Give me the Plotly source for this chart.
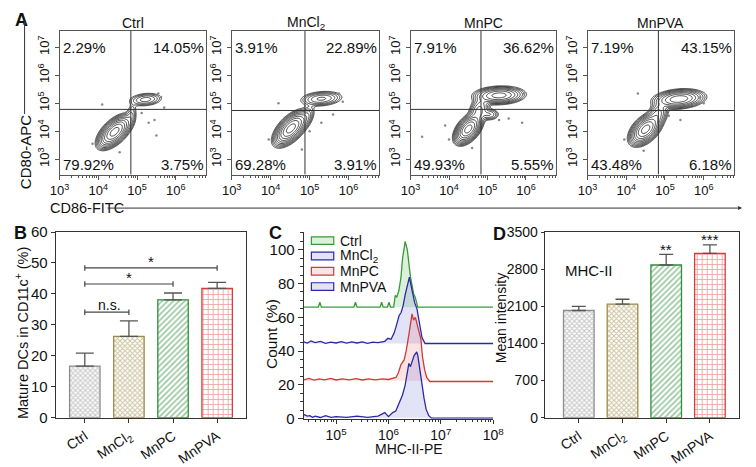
import numpy as np
import plotly.graph_objects as go

FONT = "Liberation Sans, Arial, sans-serif"

# ---------------- Panel A data ----------------
a_titles = ["Ctrl", "MnCl<sub>2</sub>", "MnPC", "MnPVA"]
a_q_ul = ["2.29%", "3.91%", "7.91%", "7.19%"]
a_q_ur = ["14.05%", "22.89%", "36.62%", "43.15%"]
a_q_ll = ["79.92%", "69.28%", "49.93%", "43.48%"]
a_q_lr = ["3.75%", "3.91%", "5.55%", "6.18%"]
a_gate_x = [4.84, 4.88, 4.83, 4.83]   # log10 CD86 gate
a_gate_y = [4.78, 4.74, 4.78, 4.74]   # log10 CD80 gate
# clusters: (cx, cy, sx, sy, rho, weight) in log10 units
a_clusters_ctrl = [(4.42, 3.98, 0.17, 0.23, 0.6, 1.0),
                   (5.22, 5.13, 0.20, 0.11, 0.2, 0.10),
                   (4.85, 4.55, 0.07, 0.22, 0.3, 0.05)]
a_clusters_mncl2 = [(4.52, 4.10, 0.17, 0.24, 0.6, 1.0),
                    (5.30, 5.16, 0.24, 0.12, 0.2, 0.14),
                    (4.92, 4.50, 0.10, 0.20, 0.5, 0.07)]
a_clusters_mnpc = [(4.50, 4.08, 0.14, 0.21, 0.5, 1.0),
                   (5.30, 5.28, 0.27, 0.13, 0.1, 0.40),
                   (4.78, 4.75, 0.12, 0.22, 0.3, 0.15),
                   (5.05, 4.60, 0.12, 0.10, 0.0, 0.08)]
a_clusters_mnpva = [(4.50, 4.07, 0.16, 0.22, 0.5, 1.0),
                    (5.36, 5.15, 0.27, 0.14, 0.2, 0.45),
                    (4.82, 4.62, 0.12, 0.20, 0.3, 0.15)]
a_clusters = [a_clusters_ctrl, a_clusters_mncl2, a_clusters_mnpc, a_clusters_mnpva]
# scattered event dots (log10 x, log10 y)
a_dots_ctrl = [(5.62, 5.22), (5.70, 4.85), (5.45, 4.40), (5.30, 4.30), (5.50, 3.85),
               (3.85, 3.55), (4.10, 4.95), (4.55, 3.25), (5.12, 4.65), (5.55, 5.35)]
a_dots_mncl2 = [(5.85, 5.05), (5.75, 5.35), (3.95, 3.70), (4.20, 5.00), (5.30, 4.30),
                (4.80, 3.35), (5.00, 4.00), (5.60, 4.60)]
a_dots_mnpc = [(5.95, 5.35), (5.70, 5.55), (3.90, 4.20), (3.30, 3.80), (4.00, 3.70),
               (5.30, 4.40), (5.55, 4.45), (5.90, 4.30), (4.60, 3.40)]
a_dots_mnpva = [(5.90, 5.20), (5.75, 4.95), (3.95, 3.70), (4.30, 5.35), (5.40, 4.40),
                (4.45, 3.30), (5.10, 4.55), (6.00, 5.00)]
a_dots = [a_dots_ctrl, a_dots_mncl2, a_dots_mnpc, a_dots_mnpva]

# ---------------- Panel B data ----------------
groups = ["Ctrl", "MnCl<sub>2</sub>", "MnPC", "MnPVA"]
b_vals = [16.7, 26.3, 38.1, 41.8]
b_err = [4.2, 5.0, 2.2, 1.9]
b_sig = [(0, 1, 34.1, "n.s."), (0, 2, 43.2, "*"), (0, 3, 48.4, "*")]

# ---------------- Panel C data ----------------
c_names = ["Ctrl", "MnCl<sub>2</sub>", "MnPC", "MnPVA"]
c_base = [66, 44.5, 22.5, 0.5]
c_ctrl_logx = [4.38, 4.66, 4.69, 4.72, 5.34, 5.37, 5.40, 5.84, 5.87, 5.90, 5.98, 6.01, 6.04,
               6.10, 6.13, 6.16, 6.20, 6.24, 6.27, 6.30, 6.32, 6.36, 6.39, 6.42, 6.45,
               6.48, 6.51, 6.54, 6.56, 8.0]
c_ctrl_y = [66, 66, 69, 66, 66, 69, 66, 66, 69, 66, 66, 69, 66,
            66, 73, 72, 76, 84, 95, 102, 105, 100, 91, 84, 79,
            74, 72, 68, 66, 66]
c_mncl2_logx = [4.38, 4.45, 4.52, 4.60, 4.70, 4.80, 4.90, 5.00, 5.10, 5.20, 5.30, 5.40, 5.50,
                5.60, 5.70, 5.80, 5.93, 5.99, 6.05, 6.11, 6.155, 6.205, 6.24, 6.28, 6.32,
                6.36, 6.40, 6.43, 6.465, 6.50, 6.545, 6.59, 6.64, 6.70, 8.0]
c_mncl2_y = [45.5, 44.8, 46.0, 45.0, 45.8, 44.6, 45.3, 44.8, 45.6, 44.7, 45.4, 44.8, 45.5,
             44.6, 45.3, 45.0, 45.8, 47.6, 47.0, 50.8, 55.5, 61.2, 62.7, 66.9, 73.5,
             79.1, 83.8, 79.1, 74.4, 68.7, 65.0, 55.5, 48.0, 44.5, 44.5]
c_mnpc_logx = [4.38, 4.48, 4.58, 4.68, 4.78, 4.90, 5.00, 5.12, 5.25, 5.38, 5.50, 5.62, 5.75,
               5.88, 6.00, 6.144, 6.19, 6.237, 6.30, 6.34, 6.39, 6.43, 6.45, 6.48, 6.515,
               6.55, 6.59, 6.62, 6.65, 6.69, 6.73, 6.79, 8.0]
c_mnpc_y = [23.0, 23.8, 22.8, 23.6, 23.0, 23.9, 22.9, 23.5, 23.0, 23.7, 22.9, 23.6, 23.0,
            23.5, 23.2, 24.4, 27.2, 31.9, 34.8, 40.4, 49.8, 57.3, 62.0, 58.3, 60.0,
            55.5, 50.8, 47.0, 36.6, 29.0, 24.4, 22.0, 22.0]
c_mnpva_logx = [4.38, 4.45, 4.50, 4.55, 4.60, 4.70, 4.80, 4.90, 5.00, 5.20, 5.40, 5.60, 5.80,
                5.93, 6.00, 6.08, 6.14, 6.205, 6.267, 6.317, 6.36, 6.39, 6.42, 6.45, 6.49,
                6.54, 6.56, 6.60, 6.64, 6.68, 6.72, 6.77, 6.82, 8.0]
c_mnpva_y = [2.5, 1.5, 1.8, 0.8, 1.5, 0.7, 1.8, 0.8, 1.2, 0.8, 1.5, 0.8, 1.5,
             3.6, 1.2, 3.6, 4.5, 9.2, 13.9, 19.6, 27.1, 32.7, 30.8, 34.2, 37.4,
             39.5, 37.4, 29.0, 19.6, 12.0, 5.5, 1.8, 0.3, 0.3]
c_logx = [c_ctrl_logx, c_mncl2_logx, c_mnpc_logx, c_mnpva_logx]
c_y = [c_ctrl_y, c_mncl2_y, c_mnpc_y, c_mnpva_y]
c_line_colors = ["#3a9a3a", "#2a2aa6", "#d03a3a", "#2a2aa6"]
c_fill_colors = ["rgba(60,170,60,0.18)", "rgba(70,70,200,0.15)",
                 "rgba(220,70,70,0.15)", "rgba(70,70,200,0.15)"]

# ---------------- Panel D data ----------------
d_vals = [2021, 2142, 2878, 3096]
d_err = [79, 91, 200, 163]
d_stars = ["", "", "**", "***"]

bar_colors = ["#8c8c8c", "#9c8a45", "#2f8f3a", "#d93a3a"]
bar_shapes = ["x", "x", "/", "+"]
bar_psize = [3.5, 3.5, 4, 5]
bar_solid = [0.5, 0.5, 0.4, 0.3]

W, H = 756, 467
def px(x):
    return x / W
def py(y):
    return 1 - y / H

fig = go.Figure()
layout = dict(width=W, height=H, margin=dict(l=0, r=0, t=0, b=0),
              paper_bgcolor="white", plot_bgcolor="white", showlegend=False,
              font=dict(family=FONT, color="#111", size=13))
annotations = []
shapes = []

def txt(x, y, text, size, xanchor="center", angle=0, bold=False):
    return dict(xref="paper", yref="paper", x=px(x), y=py(y),
                text=("<b>%s</b>" % text) if bold else text, showarrow=False,
                xanchor=xanchor, yanchor="middle", textangle=angle, font=dict(size=size))

# ---------------- Panel A ----------------
a_xdom = [(51, 202), (228, 380), (412, 562), (594, 745)]
gx = np.linspace(3.0, 6.8, 160)
gy = np.linspace(2.45, 7.6, 190)
GX, GY = np.meshgrid(gx, gy)
for i in range(4):
    n = "" if i == 0 else str(i + 1)
    xa, ya = "x" + n, "y" + n
    z = np.zeros_like(GX)
    for (cx, cy, sx, sy, rho, w) in a_clusters[i]:
        dx = (GX - cx) / sx
        dy = (GY - cy) / sy
        q = (dx * dx - 2 * rho * dx * dy + dy * dy) / (1 - rho * rho)
        z += w * np.exp(-0.5 * q)
    lz = np.log10(z / z.max() + 1e-12)
    fig.add_trace(go.Contour(x=10 ** gx, y=10 ** gy, z=lz, xaxis=xa, yaxis=ya,
                             contours=dict(coloring="lines", start=-1.9, end=-0.1, size=0.2),
                             colorscale=[[0, "#1a1a1a"], [1, "#1a1a1a"]],
                             line=dict(color="#1a1a1a", width=0.8), showscale=False,
                             hoverinfo="skip"))
    dx_ = [10 ** p[0] for p in a_dots[i]]
    dy_ = [10 ** p[1] for p in a_dots[i]]
    fig.add_trace(go.Scatter(x=dx_, y=dy_, mode="markers", xaxis=xa, yaxis=ya,
                             marker=dict(size=2.5, color="#888"), hoverinfo="skip"))
    x0, x1 = a_xdom[i]
    layout["xaxis" + n] = dict(domain=[px(x0), px(x1)], anchor=ya, type="log",
                               range=[3, 6.79], showgrid=False, zeroline=False,
                               showline=True, mirror=True, linecolor="#555", linewidth=1,
                               ticks="outside", ticklen=4, tickcolor="#555",
                               tickvals=[1e3, 1e4, 1e5, 1e6],
                               ticktext=["10<sup>3</sup>", "10<sup>4</sup>", "10<sup>5</sup>", "10<sup>6</sup>"],
                               tickfont=dict(size=13),
                               minor=dict(ticks="outside", ticklen=2, dtick="D1", tickcolor="#555"))
    layout["yaxis" + n] = dict(domain=[py(173), py(23)], anchor=xa, type="log",
                               range=[2.45, 7.58], showgrid=False, zeroline=False,
                               showline=True, mirror=True, linecolor="#555", linewidth=1,
                               ticks="outside", ticklen=4, tickcolor="#555",
                               tickvals=[1e3, 1e4, 1e5, 1e6, 1e7],
                               ticktext=["10<sup>3</sup>", "10<sup>4</sup>", "10<sup>5</sup>",
                                         "10<sup>6</sup>", "10<sup>7</sup>"],
                               tickangle=-90, tickfont=dict(size=13))
    shapes.append(dict(type="line", xref=xa, yref=ya, x0=10 ** a_gate_x[i], x1=10 ** a_gate_x[i],
                       y0=10 ** 2.45, y1=10 ** 7.58, line=dict(color="#333", width=1)))
    shapes.append(dict(type="line", xref=xa, yref=ya, x0=1e3, x1=10 ** 6.79,
                       y0=10 ** a_gate_y[i], y1=10 ** a_gate_y[i], line=dict(color="#333", width=1)))
    annotations += [
        dict(xref=xa, yref=ya, x=3.03, y=7.0, text=a_q_ul[i], showarrow=False,
             xanchor="left", yanchor="middle", font=dict(size=15)),
        dict(xref=xa, yref=ya, x=6.77, y=7.0, text=a_q_ur[i], showarrow=False,
             xanchor="right", yanchor="middle", font=dict(size=15)),
        dict(xref=xa, yref=ya, x=3.03, y=2.82, text=a_q_ll[i], showarrow=False,
             xanchor="left", yanchor="middle", font=dict(size=15)),
        dict(xref=xa, yref=ya, x=6.77, y=2.82, text=a_q_lr[i], showarrow=False,
             xanchor="right", yanchor="middle", font=dict(size=15)),
        txt((x0 + x1) / 2, 15, a_titles[i], 14),
    ]

annotations += [
    txt(3, 11, "A", 18, xanchor="left", bold=True),
    dict(xref="paper", yref="paper", x=px(15), y=py(12), ax=0, ay=95, text="",
         showarrow=True, arrowhead=2, arrowsize=0.8, arrowwidth=1, arrowcolor="#333"),
    txt(16, 150, "CD80-APC", 15, angle=-90),
    txt(39, 208, "CD86-FITC", 14.5, xanchor="left"),
    dict(xref="paper", yref="paper", x=px(753), y=py(208), ax=-636, ay=0, text="",
         showarrow=True, arrowhead=2, arrowsize=0.8, arrowwidth=1, arrowcolor="#333"),
]

# ---------------- Panel B ----------------
bar_x = [0, 1, 2, 3]
fig.add_trace(go.Bar(x=bar_x, y=b_vals, width=0.69, xaxis="x5", yaxis="y5",
                     marker=dict(color="white", line=dict(color=bar_colors, width=1.3),
                                 pattern=dict(shape=bar_shapes, fgcolor=bar_colors, bgcolor="white",
                                              size=bar_psize, solidity=bar_solid)),
                     error_y=dict(type="data", symmetric=False, array=b_err, arrayminus=[0] * 4,
                                  color="#555", thickness=1.3, width=9),
                     hoverinfo="skip"))
cat_axis = dict(showgrid=False, zeroline=False, showline=True, mirror=True, linecolor="#333",
                linewidth=1, ticks="outside", ticklen=4, tickcolor="#333",
                tickvals=bar_x, ticktext=groups, tickangle=-34, tickfont=dict(size=14))
layout["xaxis5"] = dict(cat_axis, domain=[px(47), px(243)], anchor="y5", range=[-0.66, 3.66])
layout["yaxis5"] = dict(domain=[py(427), py(233)], anchor="x5", range=[0, 60], dtick=10,
                        showgrid=False, zeroline=False, showline=True, mirror=True,
                        linecolor="#333", linewidth=1, ticks="outside", ticklen=4,
                        tickcolor="#333", tickfont=dict(size=15))
for (a, b, yv, t) in b_sig:
    shapes.append(dict(type="line", xref="x5", yref="y5", x0=a, x1=b, y0=yv, y1=yv,
                       line=dict(color="#444", width=1.2)))
    for xe in (a, b):
        shapes.append(dict(type="line", xref="x5", yref="y5", x0=xe, x1=xe, y0=yv - 0.9,
                           y1=yv + 0.9, line=dict(color="#444", width=1.2)))
    annotations.append(dict(xref="x5", yref="y5", x=(a + b) / 2 + (0.05 if t != "*" else 0),
                            y=yv + (2.0 if t == "*" else 2.2), text=t, showarrow=False,
                            xanchor="center", yanchor="middle",
                            font=dict(size=15 if t == "*" else 14)))
annotations += [
    txt(2, 234, "B", 18, xanchor="left", bold=True),
    txt(13, 339, "Mature DCs in CD11c<sup>+</sup> (%)", 14.5, angle=-90),
]

# ---------------- Panel C ----------------
for i in range(4):
    xs = [10 ** v for v in c_logx[i]]
    ys = c_y[i]
    base = c_base[i]
    fig.add_trace(go.Scatter(x=xs + [xs[-1], xs[0]], y=ys + [base, base], xaxis="x6", yaxis="y6",
                             mode="none", fill="toself", fillcolor=c_fill_colors[i],
                             hoverinfo="skip"))
    fig.add_trace(go.Scatter(x=xs, y=ys, xaxis="x6", yaxis="y6", mode="lines",
                             line=dict(color=c_line_colors[i], width=1.3), hoverinfo="skip"))
layout["xaxis6"] = dict(domain=[px(302), px(497)], anchor="y6", type="log", range=[4.38, 8.0],
                        showgrid=False, zeroline=False, showline=True, linecolor="#333",
                        linewidth=1, ticks="outside", ticklen=4, tickcolor="#333",
                        tickvals=[1e5, 1e6, 1e7, 1e8],
                        ticktext=["10<sup>5</sup>", "10<sup>6</sup>", "10<sup>7</sup>", "10<sup>8</sup>"],
                        tickfont=dict(size=14),
                        minor=dict(ticks="outside", ticklen=2.5, dtick="D1", tickcolor="#333"))
layout["yaxis6"] = dict(domain=[py(428), py(233)], anchor="x6", range=[0, 110.5], dtick=20,
                        showgrid=False, zeroline=False, showline=True, linecolor="#333",
                        linewidth=1, ticks="outside", ticklen=5, tickcolor="#333",
                        tickfont=dict(size=15),
                        minor=dict(ticks="outside", ticklen=2.5, dtick=5, tickcolor="#333"))
leg_y = [242, 258, 274, 290]
for i in range(4):
    shapes.append(dict(type="rect", xref="paper", yref="paper", x0=px(310), x1=px(333),
                       y0=py(leg_y[i] + 4), y1=py(leg_y[i] - 4),
                       line=dict(color=c_line_colors[i], width=1.2), fillcolor=c_fill_colors[i]))
    annotations.append(txt(337, leg_y[i], c_names[i], 14, xanchor="left"))
annotations += [
    txt(264, 234, "C", 18, xanchor="left", bold=True),
    txt(269, 340, "Count (%)", 15.5, angle=-90),
    txt(410, 460, "MHC-II-PE", 14),
]

# ---------------- Panel D ----------------
fig.add_trace(go.Bar(x=bar_x, y=d_vals, width=0.7, xaxis="x7", yaxis="y7",
                     marker=dict(color="white", line=dict(color=bar_colors, width=1.3),
                                 pattern=dict(shape=bar_shapes, fgcolor=bar_colors, bgcolor="white",
                                              size=bar_psize, solidity=bar_solid)),
                     error_y=dict(type="data", symmetric=False, array=d_err, arrayminus=[0] * 4,
                                  color="#555", thickness=1.3, width=7),
                     hoverinfo="skip"))
layout["xaxis7"] = dict(cat_axis, domain=[px(550), px(750)], anchor="y7", range=[-0.78, 3.67])
layout["yaxis7"] = dict(domain=[py(427), py(233)], anchor="x7", range=[0, 3500], dtick=700,
                        showgrid=False, zeroline=False, showline=True, mirror=True,
                        linecolor="#333", linewidth=1, ticks="outside", ticklen=3,
                        tickcolor="#333", tickfont=dict(size=14))
for i in range(4):
    if d_stars[i]:
        annotations.append(dict(xref="x7", yref="y7", x=bar_x[i], y=d_vals[i] + d_err[i] + 100,
                                text=d_stars[i], showarrow=False, xanchor="center",
                                yanchor="middle", font=dict(size=15)))
annotations += [
    dict(xref="x7", yref="y7", x=-0.36, y=2780, text="MHC-II", showarrow=False,
         xanchor="left", yanchor="middle", font=dict(size=15)),
    txt(495, 235, "D", 18, xanchor="left", bold=True),
    txt(505, 323, "Mean intensity", 14, angle=-90),
]

layout["annotations"] = annotations
layout["shapes"] = shapes
fig.update_layout(**layout)
fig.write_html("out.html")
